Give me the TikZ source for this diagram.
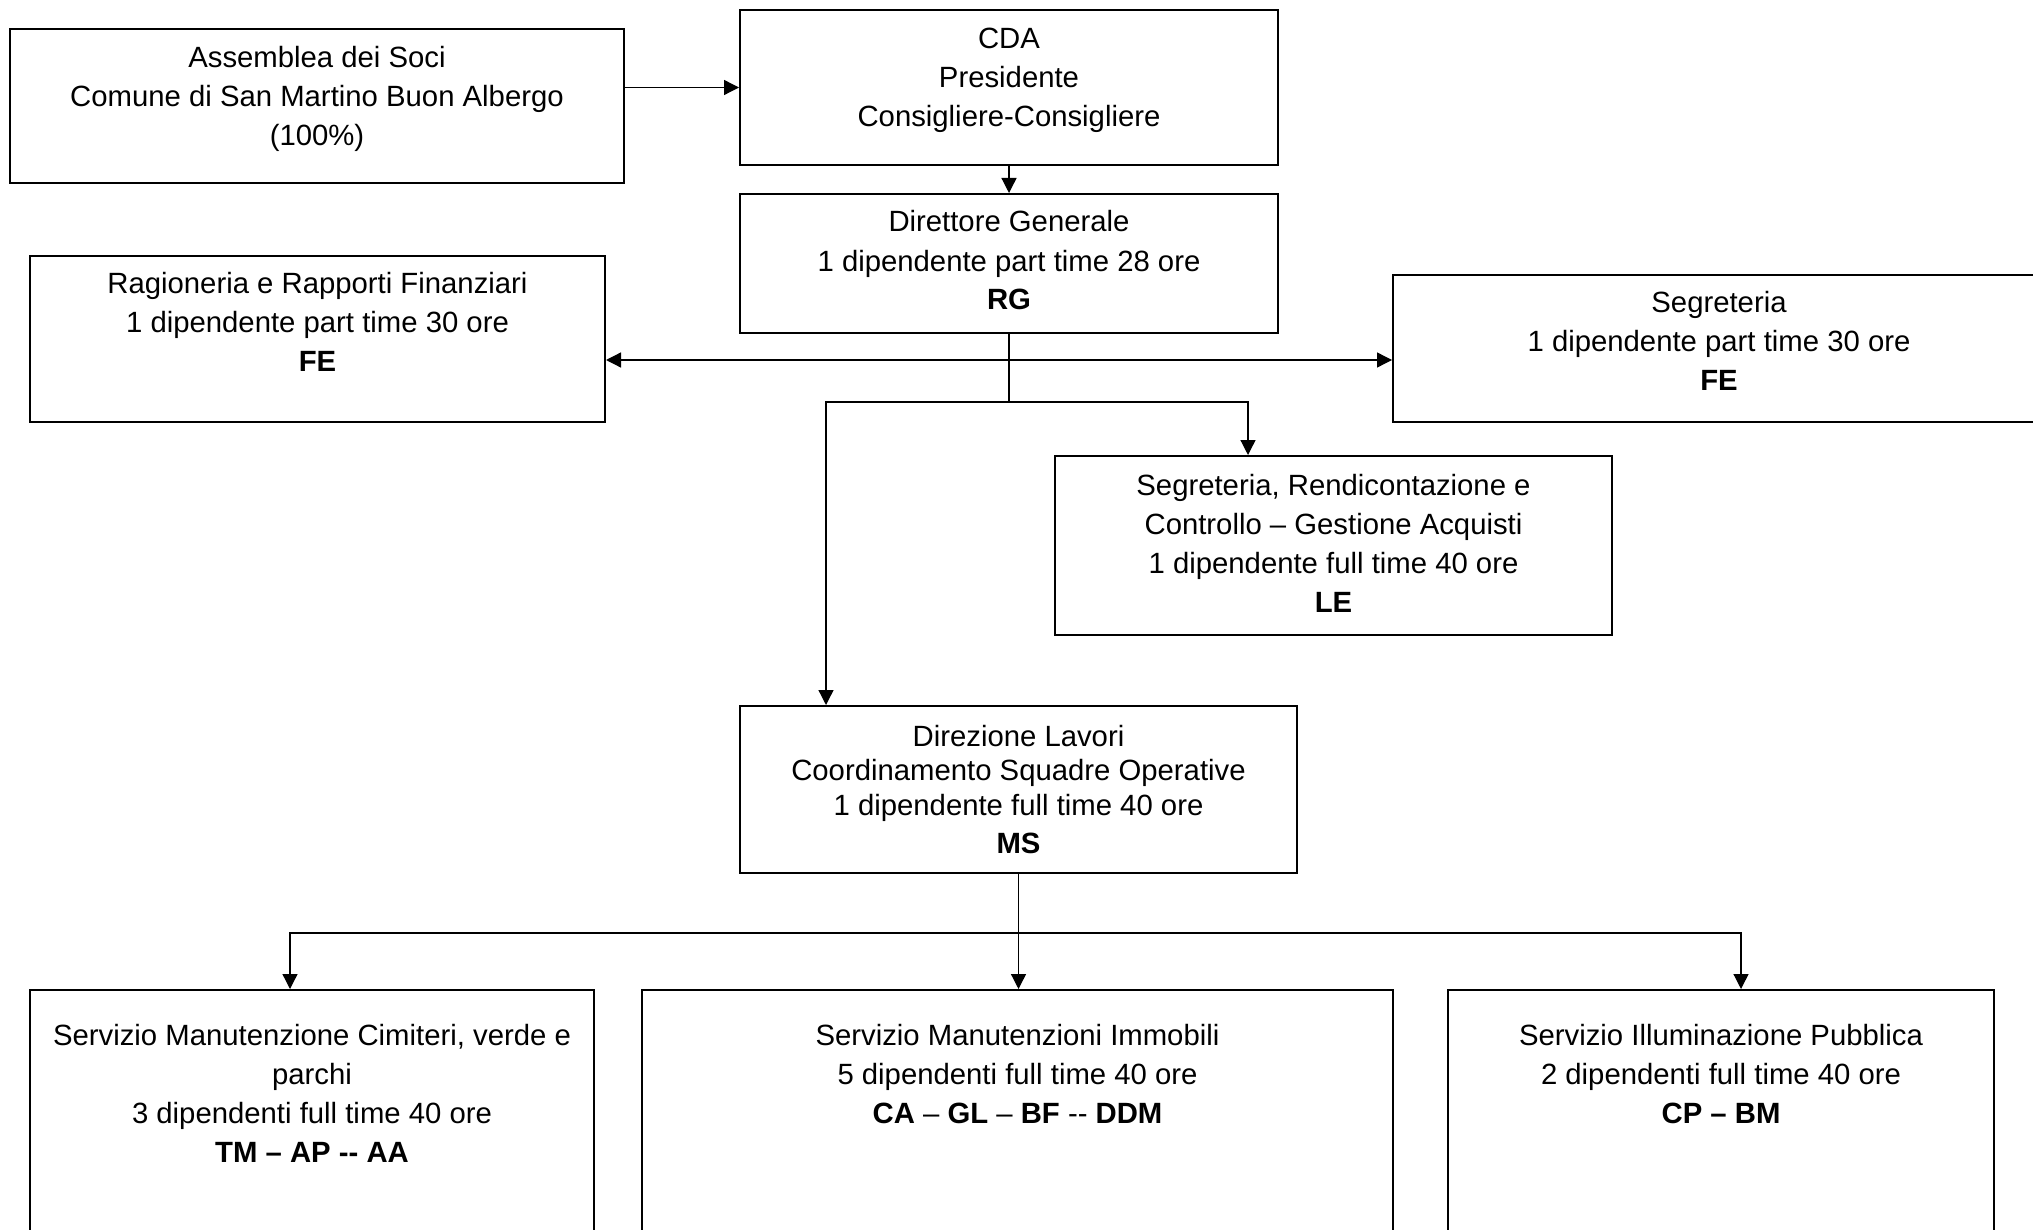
\documentclass[tikz,border=0pt]{standalone}
\usepackage{fontspec}
\setmainfont{Liberation Sans}
\usetikzlibrary{arrows.meta}
\tikzset{
  unit/.style={draw, line width=2pt, inner sep=0pt},
  txt/.style={align=center, inner sep=0pt, anchor=base,
    font=\fontsize{29.3pt}{39pt}\selectfont},
  link/.style={line width=1.3pt}
}
\begin{document}
\begin{tikzpicture}[x=1pt,y=-1pt,>={Triangle[length=15pt,width=15pt]}]
\useasboundingbox (0,0) rectangle (2033,1230);
\clip (0,0) rectangle (2033,1230);
% boxes
\node[unit, minimum width=614pt, minimum height=154pt] (soci) at (317,106) {};
\node[unit, minimum width=538pt, minimum height=155pt] (cda) at (1009,87.5) {};
\node[unit, minimum width=538pt, minimum height=139pt] (dg) at (1009,263.5) {};
\node[unit, minimum width=575pt, minimum height=166pt] (rag) at (317.5,339) {};
\node[unit, minimum width=652pt, minimum height=147pt] (seg) at (1719,348.5) {};
\node[unit, minimum width=557pt, minimum height=179pt] (segr) at (1333.5,545.5) {};
\node[unit, minimum width=557pt, minimum height=167pt] (dl) at (1018.5,789.5) {};
\node[unit, minimum width=564pt, minimum height=260pt] (s1) at (312,1120) {};
\node[unit, minimum width=751pt, minimum height=260pt] (s2) at (1017.5,1120) {};
\node[unit, minimum width=546pt, minimum height=260pt] (s3) at (1721,1120) {};
% texts (placed by the baseline of their last line)
\node[txt] (socit) at (317,146) {Assemblea dei Soci\\Comune di San Martino Buon Albergo\\(100\%)};
\node[txt] (cdat) at (1009,127) {CDA\\Presidente\\Consigliere-Consigliere};
\node[txt] (dgt) at (1009,310) {Direttore Generale\\1 dipendente part time 28 ore\\\textbf{RG}};
\node[txt] (ragt) at (317.5,371) {Ragioneria e Rapporti Finanziari\\1 dipendente part time 30 ore\\\textbf{FE}};
\node[txt] (segt) at (1719,390) {Segreteria\\1 dipendente part time 30 ore\\\textbf{FE}};
\node[txt] (segrt) at (1333.5,612) {Segreteria, Rendicontazione e\\Controllo – Gestione Acquisti\\1 dipendente full time 40 ore\\\textbf{LE}};
\node[txt, font=\fontsize{29.3pt}{34.5pt}\selectfont] (dlt) at (1018.5,853) {Direzione Lavori\\Coordinamento Squadre Operative\\1 dipendente full time 40 ore\\[3.5pt]\textbf{MS}};
\node[txt] (s1t) at (312,1162) {Servizio Manutenzione Cimiteri, verde e\\parchi\\3 dipendenti full time 40 ore\\\textbf{TM – AP -{}- AA}};
\node[txt] (s2t) at (1017.5,1123) {Servizio Manutenzioni Immobili\\5 dipendenti full time 40 ore\\\textbf{CA} – \textbf{GL} – \textbf{BF} -{}- \textbf{DDM}};
\node[txt] (s3t) at (1721,1123) {Servizio Illuminazione Pubblica\\2 dipendenti full time 40 ore\\\textbf{CP – BM}};
% connectors
\coordinate (hub)   at (1009,360);
\coordinate (fork)  at (1009,402);
\coordinate (forkl) at (826,402);
\coordinate (forkr) at (1248,402);
\coordinate (bus)   at (1018.5,933);
\coordinate (busl)  at (290,933);
\coordinate (busr)  at (1741,933);
\draw[link,->] (soci.east |- cda.west) -- (cda.west);
\draw[link,->] (cda.south) -- (dg.north);
\draw[link] (dg.south) -- (fork);
\draw[link,<->] (rag.east |- hub) -- (seg.west |- hub);
\draw[link,->] (fork) -- (forkr) -- (forkr |- segr.north);
\draw[link,->] (fork) -- (forkl) -- (forkl |- dl.north);
\draw[link] (dl.south) -- (bus);
\draw[link,->] (bus) -- (busl) -- (busl |- s1.north);
\draw[link,->] (bus) -- (bus |- s2.north);
\draw[link,->] (bus) -- (busr) -- (busr |- s3.north);
\end{tikzpicture}
\end{document}
